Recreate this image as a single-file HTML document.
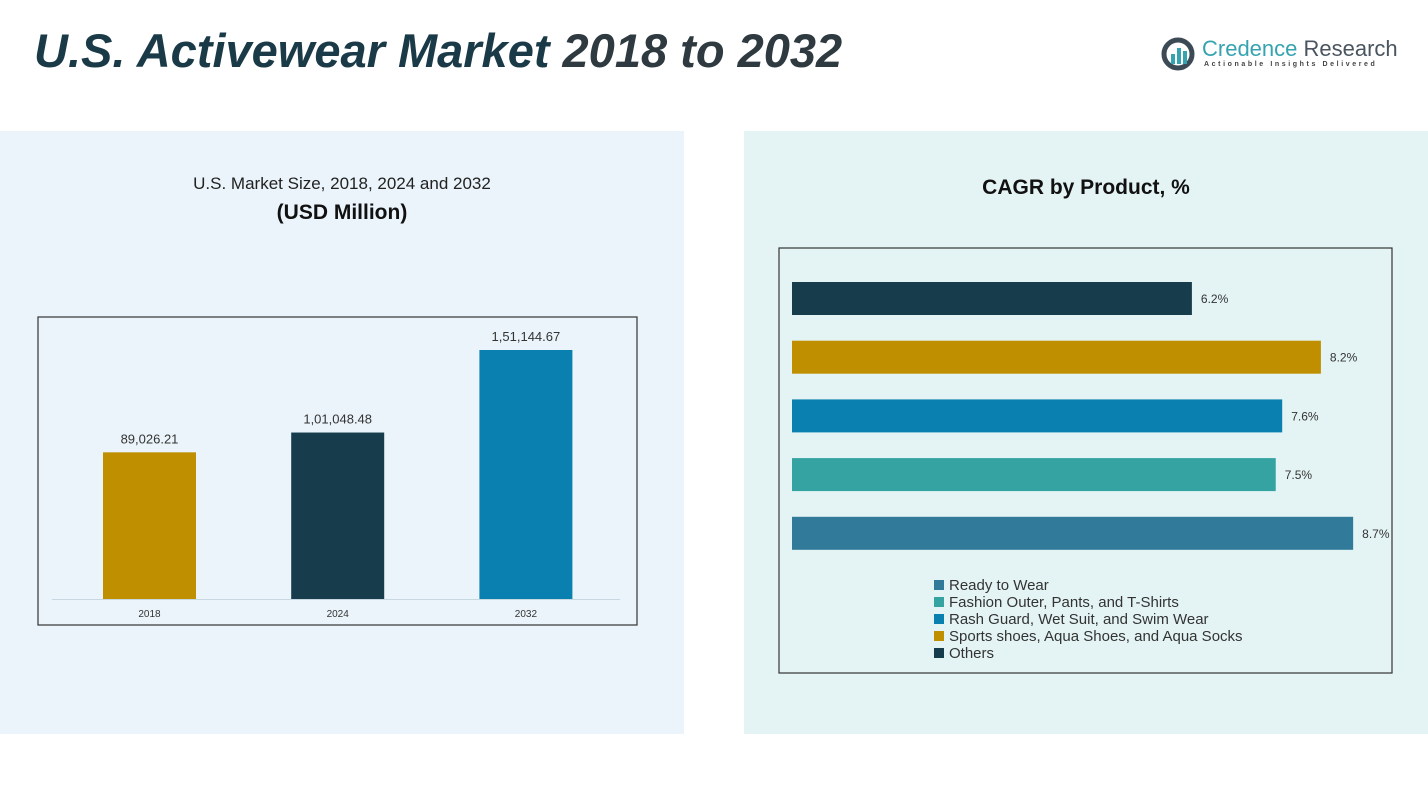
<!DOCTYPE html>
<html><head><meta charset="utf-8"><style>
body{margin:0;width:1428px;height:804px;background:#fff;font-family:"Liberation Sans",sans-serif;position:relative;overflow:hidden}
.abs{position:absolute}
</style></head><body>
<div class="abs" style="left:34px;top:23px;font-size:47px;font-weight:bold;font-style:italic;color:#1b3a48;letter-spacing:0px;white-space:nowrap">U.S. Activewear Market <span style="color:#2e3a40">2018 to 2032</span></div>
<div class="abs" style="left:1160px;top:34px;width:240px;height:40px">
<svg width="40" height="40" class="abs" style="left:0;top:0"><circle cx="18" cy="20" r="14" fill="none" stroke="#3b4a55" stroke-width="5"/><rect x="11" y="20" width="4" height="10" fill="#36a3b0"/><rect x="17" y="14" width="4" height="16" fill="#36a3b0"/><rect x="23" y="17" width="4" height="13" fill="#36a3b0"/></svg>
<div class="abs" style="left:42px;top:2px;font-size:22px;color:#36a3b0;white-space:nowrap">Credence <span style="color:#4a5560">Research</span></div>
<div class="abs" style="left:44px;top:27px;font-size:7px;letter-spacing:2.6px;color:#444;white-space:nowrap;font-weight:bold">Actionable Insights Delivered</div>
</div>
<div class="abs" style="left:0;top:131px;width:684px;height:603px;background:#eaf4fa"></div>
<div class="abs" style="left:744px;top:131px;width:684px;height:603px;background:#e4f4f4"></div>
<div class="abs" style="left:0;width:684px;top:174px;text-align:center;font-size:17px;color:#222">U.S. Market Size, 2018, 2024 and 2032</div>
<div class="abs" style="left:0;width:684px;top:201px;text-align:center;font-size:21px;font-weight:bold;color:#111">(USD Million)</div>
<div class="abs" style="left:744px;width:684px;top:176px;text-align:center;font-size:21px;font-weight:bold;color:#111">CAGR by Product, %</div>
<svg id="s" class="abs" style="left:0;top:0" width="1428" height="804">
<rect x="38" y="317" width="599" height="308" fill="none" stroke="#333" stroke-width="1.2"/>
<line x1="52" y1="599.5" x2="620" y2="599.5" stroke="#c8d8e0"/>
<rect x="779" y="248" width="613" height="425" fill="none" stroke="#333" stroke-width="1.2"/>
</svg>
<script>
const years=["2018","2024","2032"];
const sizes=[89026.21,101048.48,151144.67];
const sizeLabels=["89,026.21","1,01,048.48","1,51,144.67"];
const products=["Others","Sports shoes, Aqua Shoes, and Aqua Socks","Rash Guard, Wet Suit, and Swim Wear","Fashion Outer, Pants, and T-Shirts","Ready to Wear"];
const cagr=[6.2,8.2,7.6,7.5,8.7];
const cagrLabels=["6.2%","8.2%","7.6%","7.5%","8.7%"];
const yearColors=["#c08f00","#173d4d","#0a80b0"];
const prodColors=["#173d4d","#c08f00","#0a80b0","#36a3a3","#317a9a"];
const NS="http://www.w3.org/2000/svg",s=document.getElementById('s');
function mk(t,a,txt){const e=document.createElementNS(NS,t);for(const k in a)e.setAttribute(k,a[k]);if(txt)e.textContent=txt;s.appendChild(e);return e;}
const y=v=>599-v*249/151144.67, xc=i=>149.5+i*188.2;
years.forEach((yr,i)=>{
 const b=mk('rect',{x:xc(i)-46.5,y:y(sizes[i]),width:93,height:599-y(sizes[i]),fill:yearColors[i]});
 
 
 const l=mk('text',{x:xc(i),y:y(sizes[i])-9,'text-anchor':'middle','font-size':13,fill:'#333'},sizeLabels[i]);
 
 
 const t=mk('text',{x:xc(i),y:617,'text-anchor':'middle','font-size':10,fill:'#333'},yr);
 
 
});
const x=v=>792+v*64.5, yb=i=>282+i*58.7;
products.forEach((p,i)=>{
 const b=mk('rect',{x:792,y:yb(i),width:x(cagr[i])-792,height:33,fill:prodColors[i]});
 
 
 const l=mk('text',{x:x(cagr[i])+9,y:yb(i)+21,'font-size':12,fill:'#333'},cagrLabels[i]);
 
 
});
[4,3,2,1,0].forEach((pi,k)=>{
 const r=mk('rect',{x:934,y:580+k*17,width:10,height:10,fill:prodColors[pi]});
 
 
 const t=mk('text',{x:949,y:590+k*17,'font-size':15,fill:'#333'},products[pi]);
 
 
});
</script>
</body></html>
